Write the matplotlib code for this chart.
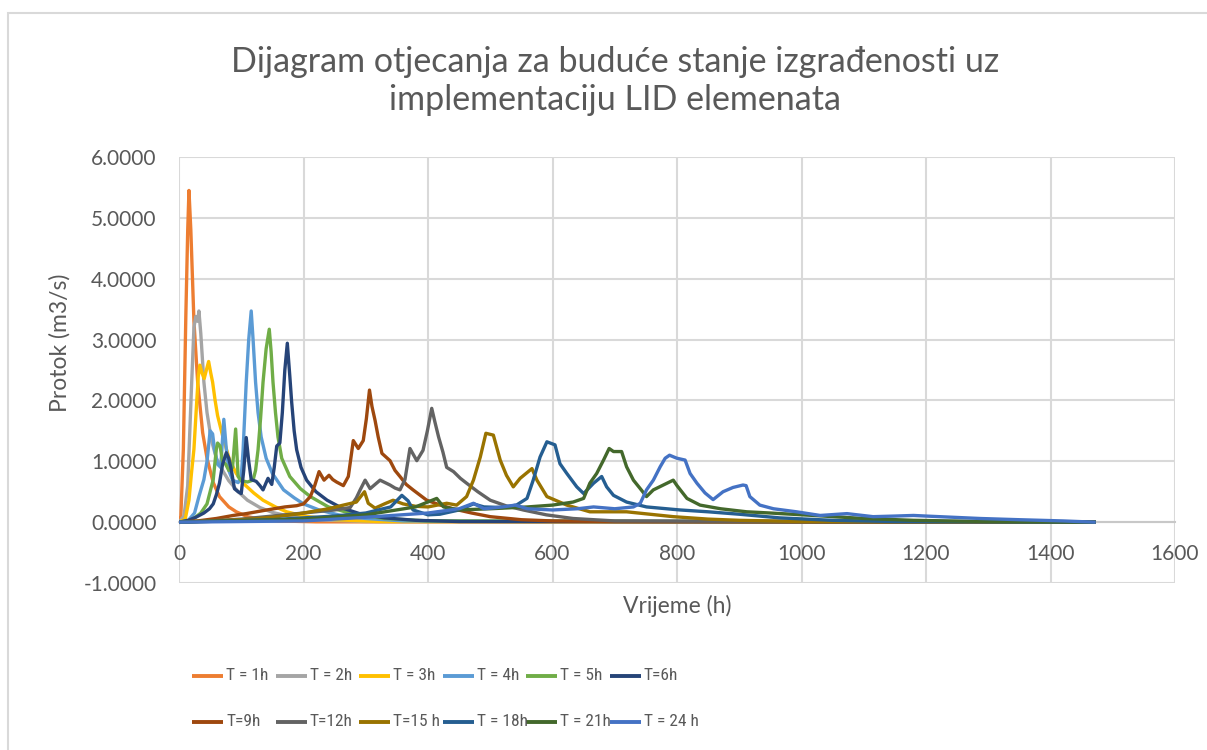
import matplotlib
matplotlib.use('Agg')
import matplotlib.pyplot as plt
from matplotlib import font_manager
from matplotlib.lines import Line2D
from matplotlib.patches import Rectangle
from matplotlib.ticker import FuncFormatter, MultipleLocator

plt.rcParams['font.family'] = ['Lato', 'DejaVu Sans']

# hydrographs, time (h) / discharge (m3/s)
t_1h = [0, 3, 7, 11, 14, 16, 19, 24, 30, 38, 45, 55, 65, 80, 92, 110, 130, 160, 220, 1470]
q_1h = [0, 0.1, 1.2, 3.4, 4.8, 5.45, 4.8, 3.3, 2.3, 1.47, 1.05, 0.65, 0.42, 0.25, 0.17, 0.09, 0.05, 0.02, 0.005, 0]

t_2h = [0, 8, 14, 20, 24, 27, 30, 32, 35, 40, 45, 52, 60, 70, 80, 95, 110, 130, 150, 180, 220, 300, 1470]
q_2h = [0, 0.1, 0.6, 2.2, 3.2, 3.38, 3.3, 3.47, 3.1, 2.3, 1.8, 1.35, 1.05, 0.85, 0.68, 0.5, 0.36, 0.24, 0.16, 0.09, 0.04, 0.01, 0]

t_3h = [0, 10, 16, 20, 24, 28, 31, 33.5, 37, 40.5, 44, 47.6, 51, 54, 58, 62, 70, 81, 92, 103, 120, 135, 155, 173, 200, 250, 320, 1470]
q_3h = [0, 0.05, 0.36, 0.8, 1.2, 1.9, 2.4, 2.58, 2.45, 2.36, 2.5, 2.64, 2.45, 2.3, 2.0, 1.75, 1.42, 1.03, 0.8, 0.64, 0.48, 0.36, 0.25, 0.17, 0.1, 0.04, 0.01, 0]

t_4h = [0, 15, 25, 32, 40, 45, 50, 54, 57, 62, 67, 72, 76, 80, 86, 95, 100, 103, 108, 112, 116, 119, 123, 127, 132, 140, 150, 168, 185, 200, 225, 260, 300, 360, 1470]
q_4h = [0, 0.03, 0.15, 0.42, 0.7, 1.0, 1.5, 1.45, 1.2, 0.95, 0.9, 1.69, 1.2, 0.85, 0.69, 0.65, 0.75, 1.19, 2.3, 3.0, 3.47, 3.0, 2.3, 1.8, 1.4, 1.05, 0.8, 0.53, 0.4, 0.3, 0.2, 0.11, 0.06, 0.02, 0]

t_5h = [0, 20, 35, 45, 55, 60, 62, 66, 70, 75, 80, 86, 91, 95, 100, 110, 119, 123, 127, 131, 135, 140, 145, 148, 151, 155, 159, 165, 178, 195, 211, 240, 280, 330, 400, 1470]
q_5h = [0, 0.03, 0.15, 0.3, 0.7, 1.2, 1.3, 1.25, 1.0, 0.95, 0.85, 0.9, 1.53, 0.75, 0.68, 0.66, 0.69, 0.85, 1.19, 1.7, 2.3, 2.85, 3.17, 2.8, 2.3, 1.8, 1.4, 1.05, 0.75, 0.55, 0.42, 0.25, 0.13, 0.06, 0.02, 0]

t_6h = [0, 15, 27, 40, 49, 55, 60, 65, 70, 76, 80, 84, 89, 95, 100, 104, 108, 112, 116, 124, 130, 135, 140, 143, 149, 153, 157, 162, 166, 170, 174, 178, 181, 185, 189, 196, 205, 220, 238, 260, 290, 330, 380, 450, 1470]
q_6h = [0, 0.03, 0.08, 0.15, 0.22, 0.3, 0.45, 0.64, 0.95, 1.14, 1.05, 0.86, 0.55, 0.5, 0.47, 0.85, 1.39, 1.0, 0.7, 0.67, 0.6, 0.53, 0.65, 0.72, 0.62, 0.9, 1.25, 1.3, 1.8, 2.5, 2.94, 2.4, 1.97, 1.5, 1.19, 0.9, 0.69, 0.5, 0.36, 0.24, 0.14, 0.07, 0.03, 0.01, 0]

t_9h = [0, 30, 60, 87, 108, 141, 170, 189, 200, 211, 218, 225, 233, 241, 247, 253, 264, 272, 280, 288, 296, 301, 306, 310, 315, 320, 326, 339, 347, 355, 365, 376, 398, 420, 440, 470, 500, 550, 600, 700, 1470]
q_9h = [0, 0.02, 0.06, 0.11, 0.14, 0.2, 0.25, 0.27, 0.3, 0.42, 0.6, 0.83, 0.69, 0.77, 0.7, 0.66, 0.6, 0.75, 1.34, 1.21, 1.34, 1.7, 2.17, 1.9, 1.67, 1.4, 1.13, 1.01, 0.85, 0.75, 0.62, 0.53, 0.36, 0.28, 0.22, 0.15, 0.09, 0.04, 0.02, 0.01, 0]

t_12h = [0, 50, 100, 150, 200, 250, 275, 285, 291, 299, 307, 315, 323, 331, 339, 347, 355, 363, 371, 382, 392, 399, 406, 411, 417, 424, 430, 441, 452, 462, 480, 500, 525, 553, 590, 633, 700, 1470]
q_12h = [0, 0.02, 0.05, 0.1, 0.15, 0.2, 0.24, 0.4, 0.53, 0.69, 0.55, 0.62, 0.69, 0.65, 0.61, 0.56, 0.53, 0.7, 1.21, 1.01, 1.18, 1.5, 1.87, 1.65, 1.4, 1.15, 0.9, 0.83, 0.72, 0.64, 0.5, 0.36, 0.27, 0.2, 0.12, 0.06, 0.02, 0]

t_15h = [0, 100, 150, 194, 240, 264, 285, 298, 304, 315, 330, 344, 360, 380, 400, 430, 446, 462, 473, 484, 493, 505, 516, 526, 537, 548, 567, 575, 591, 623, 660, 719, 794, 850, 900, 1000, 1470]
q_15h = [0, 0.04, 0.08, 0.14, 0.22, 0.28, 0.33, 0.5, 0.31, 0.23, 0.3, 0.36, 0.3, 0.26, 0.25, 0.31, 0.28, 0.42, 0.69, 1.07, 1.46, 1.43, 1.02, 0.77, 0.58, 0.72, 0.88, 0.69, 0.42, 0.28, 0.17, 0.17, 0.09, 0.05, 0.03, 0.01, 0]

t_18h = [0, 150, 250, 300, 340, 358, 368, 376, 400, 419, 450, 473, 490, 520, 542, 559, 569, 580, 591, 604, 612, 623, 639, 650, 666, 679, 687, 698, 719, 751, 794, 805, 850, 900, 965, 1050, 1150, 1470]
q_18h = [0, 0.04, 0.1, 0.15, 0.25, 0.44, 0.35, 0.2, 0.12, 0.13, 0.2, 0.3, 0.25, 0.24, 0.28, 0.39, 0.69, 1.07, 1.32, 1.27, 0.96, 0.8, 0.58, 0.47, 0.64, 0.75, 0.58, 0.44, 0.33, 0.25, 0.21, 0.2, 0.17, 0.13, 0.07, 0.03, 0.01, 0]

t_21h = [0, 200, 300, 380, 414, 425, 450, 500, 560, 600, 633, 650, 660, 671, 682, 691, 698, 711, 719, 730, 741, 751, 762, 778, 794, 800, 816, 837, 870, 912, 950, 1019, 1100, 1180, 1300, 1470]
q_21h = [0, 0.05, 0.12, 0.25, 0.39, 0.25, 0.2, 0.22, 0.25, 0.28, 0.33, 0.39, 0.64, 0.8, 1.02, 1.21, 1.16, 1.16, 0.91, 0.69, 0.55, 0.42, 0.53, 0.61, 0.69, 0.6, 0.39, 0.28, 0.22, 0.17, 0.15, 0.11, 0.06, 0.03, 0.01, 0]

t_24h = [0, 200, 300, 400, 450, 473, 490, 520, 540, 560, 600, 640, 666, 700, 730, 741, 751, 762, 773, 781, 788, 795, 800, 813, 821, 832, 845, 858, 874, 890, 906, 911, 917, 933, 955, 992, 1030, 1073, 1115, 1150, 1180, 1200, 1287, 1350, 1420, 1470]
q_24h = [0, 0.02, 0.08, 0.15, 0.22, 0.31, 0.22, 0.25, 0.28, 0.22, 0.2, 0.22, 0.25, 0.22, 0.25, 0.31, 0.53, 0.69, 0.91, 1.05, 1.1, 1.07, 1.05, 1.02, 0.8, 0.64, 0.48, 0.37, 0.5, 0.57, 0.61, 0.6, 0.42, 0.28, 0.22, 0.17, 0.11, 0.14, 0.09, 0.1, 0.11, 0.1, 0.06, 0.04, 0.02, 0]

labels = ['T = 1h', 'T = 2h', 'T = 3h', 'T = 4h', 'T = 5h', 'T=6h',
          'T=9h', 'T=12h', 'T=15 h', 'T = 18h', 'T = 21h', 'T = 24 h']
colors = ['#ED7D31', '#A5A5A5', '#FFC000', '#5B9BD5', '#70AD47', '#264478',
          '#9E480E', '#636363', '#997300', '#255E91', '#43682B', '#4472C4']
series = [(t_1h, q_1h), (t_2h, q_2h), (t_3h, q_3h), (t_4h, q_4h),
          (t_5h, q_5h), (t_6h, q_6h), (t_9h, q_9h), (t_12h, q_12h),
          (t_15h, q_15h), (t_18h, q_18h), (t_21h, q_21h), (t_24h, q_24h)]

txt = '#595959'
W, H = 1207, 750

fig = plt.figure(figsize=(W / 100, H / 100), dpi=100)
ax = fig.add_axes([179 / W, 1 - 583 / H, (1175 - 179) / W, (583 - 157) / H])

for (t, q), c in zip(series, colors):
    ax.plot(t, q, color=c, lw=2.4, solid_joinstyle='round', zorder=3)

ax.set_xlim(0, 1600)
ax.set_ylim(-1, 6)
ax.xaxis.set_major_locator(MultipleLocator(200))
ax.yaxis.set_major_locator(MultipleLocator(1))
ax.yaxis.set_major_formatter(FuncFormatter(lambda v, p: f'{v:.4f}'))
ax.grid(True, color='#D9D9D9', lw=1.5)
ax.set_axisbelow(True)

for s in ['top', 'right', 'left']:
    ax.spines[s].set_visible(False)
ax.spines['bottom'].set_position(('data', 0))
ax.spines['bottom'].set_color('#C8C8C8')
ax.spines['bottom'].set_linewidth(1.5)
ax.spines['bottom'].set_zorder(2)

ax.tick_params(axis='both', length=0, labelsize=15, labelcolor=txt)
ax.tick_params(axis='x', pad=16)
ax.tick_params(axis='y', pad=16)

ax.set_xlabel('Vrijeme (h)', fontsize=16.5, color=txt)
ax.xaxis.set_label_coords(0.5, (583 - 606) / 426)
ax.xaxis.label.set_va('center')
ax.set_ylabel('Protok (m3/s)', fontsize=16.5, color=txt)
ax.yaxis.set_label_coords((60 - 179) / 996, (583 - 343) / 426)
ax.yaxis.label.set_va('center')

fig.text(615 / W, 1 - 81 / H,
         'Dijagram otjecanja za buduće stanje izgrađenosti uz\nimplementaciju LID elemenata',
         ha='center', va='center', fontsize=24.5, color=txt, linespacing=1.2)

# legend text is narrow; use a condensed face when one is installed
installed = {f.name for f in font_manager.fontManager.ttflist}
cond = [n for n in ['Liberation Sans Narrow', 'DejaVu Sans Condensed',
                    'Roboto Condensed', 'Open Sans Condensed'] if n in installed]
if cond:
    leg_family, leg_size = [cond[0], 'DejaVu Sans'], 12.5
else:
    leg_family, leg_size = ['Lato', 'DejaVu Sans'], 11.5

# legend laid out as a 6 x 2 grid below the plot
for i, (lab, c) in enumerate(zip(labels, colors)):
    row, col = divmod(i, 6)
    x0 = 192 + col * 83.5
    y0 = 676 + row * 45.5
    fig.add_artist(Line2D([x0 / W, (x0 + 31) / W], [1 - y0 / H, 1 - y0 / H],
                          color=c, lw=2.8, solid_capstyle='butt',
                          transform=fig.transFigure))
    fig.text((x0 + 34) / W, 1 - y0 / H, lab, ha='left', va='center',
             fontsize=leg_size, color=txt, family=leg_family)

# chart frame
fig.add_artist(Rectangle((8 / W, -0.1), 1.2, 1 - 13 / H + 0.1, fill=False,
                         edgecolor='#D9D9D9', lw=1.5, transform=fig.transFigure))

fig.savefig('out.png', dpi=100)
